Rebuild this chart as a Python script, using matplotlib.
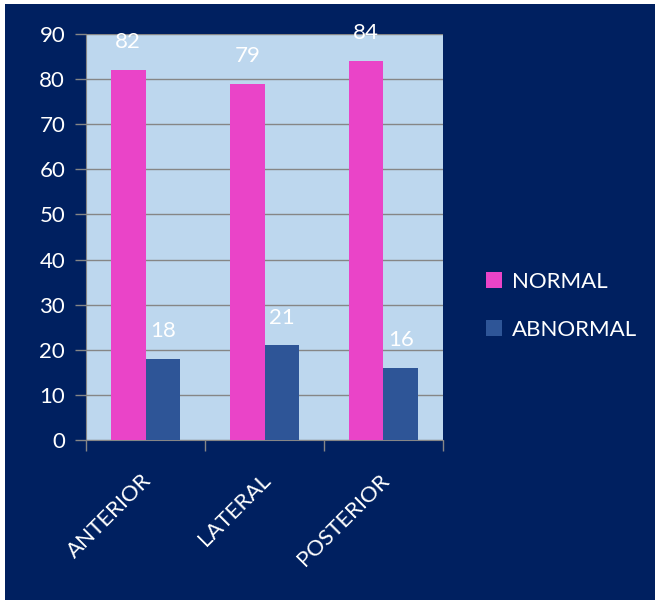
import matplotlib.pyplot as plt
import numpy as np
from matplotlib.patches import Rectangle

categories = ["ANTERIOR", "LATERAL", "POSTERIOR"]
normal = [82, 79, 84]
abnormal = [18, 21, 16]

navy = "#002060"
pink = "#EA44C8"
blue = "#2E5597"
plotbg = "#BDD7EE"

plt.rcParams['font.family'] = ['Lato', 'DejaVu Sans']

fig = plt.figure(figsize=(6.59, 6.04), dpi=100)
fig.patch.set_facecolor("white")
# navy panel inside a thin white border
fig.patches.append(Rectangle((5/659, 4/604), 650/659, 596/604, transform=fig.transFigure,
                             facecolor=navy, edgecolor="none", zorder=-10))

ax = fig.add_axes([86/659, 1 - 440/604, 357/659, 406/604])
ax.set_zorder(2)
ax.set_facecolor(plotbg)

x = np.arange(len(categories))
w = 0.29
b1 = ax.bar(x - w/2, normal, w, color=pink, label="NORMAL", zorder=3)
b2 = ax.bar(x + w/2, abnormal, w, color=blue, label="ABNORMAL", zorder=3)

for bars, vals in ((b1, normal), (b2, abnormal)):
    for r, v in zip(bars, vals):
        ax.text(r.get_x() + r.get_width()/2, v + 3.9, str(v), ha="center", va="bottom",
                color="white", fontsize=16)

ax.set_ylim(0, 90)
ax.set_xlim(-0.5, 2.5)
ax.set_yticks(range(0, 91, 10))
ax.grid(axis="y", color="#868686", linewidth=1, zorder=1)
ax.tick_params(axis="y", colors="#868686", labelcolor="white", labelsize=16, length=8,
               width=1, pad=7)

ax.set_xticks([-0.5, 0.5, 1.5, 2.5])
ax.set_xticklabels([])
ax.tick_params(axis="x", colors="#868686", length=8, width=1)
for i, c in enumerate(categories):
    ax.text(i - 0.035, -6.7, c, rotation=45, ha="right", va="top", color="white",
            fontsize=16, rotation_mode="anchor")

for s in ["top", "right"]:
    ax.spines[s].set_visible(False)
for s in ["left", "bottom"]:
    ax.spines[s].set_color("#868686")

leg = fig.legend(loc="upper left", bbox_to_anchor=(466/659, 1 - 252/604), frameon=False,
                 fontsize=16, labelcolor="white", handlelength=0.7, handleheight=0.7,
                 labelspacing=1.25, handletextpad=0.45)

fig.savefig("out.png", dpi=100, facecolor=fig.get_facecolor())
